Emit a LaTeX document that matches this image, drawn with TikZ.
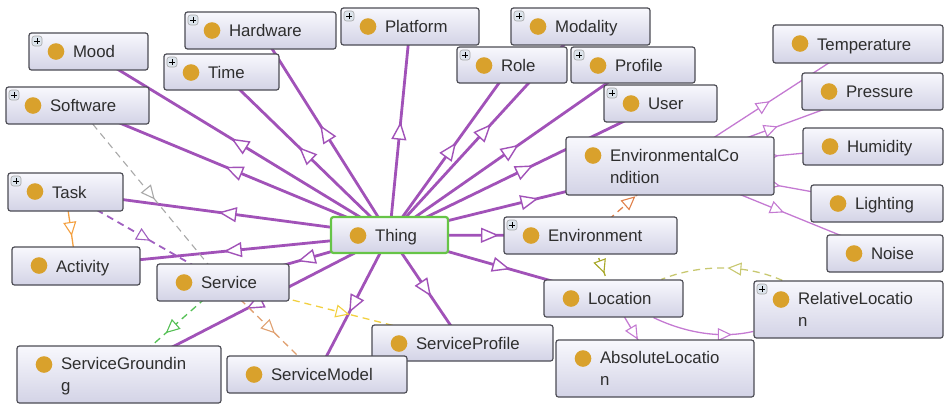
\documentclass[tikz,border=0pt]{standalone}
\usepackage{fontspec}
\setmainfont{Liberation Sans}
\usetikzlibrary{arrows.meta,decorations.markings,calc}
\definecolor{purp}{HTML}{A152B8}
\definecolor{lpurp}{HTML}{C47AD2}
\definecolor{dotc}{HTML}{D9A12C}
\definecolor{boxtop}{HTML}{F8F8FD}
\definecolor{boxbot}{HTML}{D3D3E6}
\definecolor{boxline}{HTML}{4C4C54}
\definecolor{txt}{HTML}{2E2E2E}
\definecolor{thinggreen}{HTML}{66C447}
\definecolor{plusfill}{HTML}{DCE4EC}
\definecolor{greyd}{HTML}{A8A8A8}
\definecolor{purd}{HTML}{A060C0}
\definecolor{greend}{HTML}{55C055}
\definecolor{tand}{HTML}{E0A070}
\definecolor{yellowd}{HTML}{F2D040}
\definecolor{orangel}{HTML}{F4A040}
\definecolor{oranged}{HTML}{E0804A}
\definecolor{olived}{HTML}{A8A828}
\definecolor{olivel}{HTML}{C8C870}
\pgfdeclarelayer{background}
\pgfsetlayers{background,main}
\tikzset{
  dotpic/.style={path picture={
      \fill[dotc] ([xshift=27pt,yshift=-18.5pt]path picture bounding box.north west) circle (8.3pt);}},
  pluspic/.style={path picture={
      \fill[dotc] ([xshift=27pt,yshift=-18.5pt]path picture bounding box.north west) circle (8.3pt);
      \draw[fill=plusfill,draw=gray!70,line width=0.6pt]
        ([xshift=3pt,yshift=-3pt]path picture bounding box.north west) rectangle
        ([xshift=13pt,yshift=-13pt]path picture bounding box.north west);
      \draw[black,line width=0.9pt]
        ([xshift=5pt,yshift=-8pt]path picture bounding box.north west) --
        ([xshift=11pt,yshift=-8pt]path picture bounding box.north west)
        ([xshift=8pt,yshift=-5pt]path picture bounding box.north west) --
        ([xshift=8pt,yshift=-11pt]path picture bounding box.north west);}},
  clsbox/.style={draw=boxline, line width=1.2pt, rounded corners=2.5pt,
    top color=boxtop, bottom color=boxbot, inner sep=0pt, align=left,
    text height=12pt, text depth=0pt, text=txt,
    font=\fontsize{16.8}{22}\selectfont,
    execute at begin node={\hyphenpenalty=10000 \exhyphenpenalty=10000 },
    dotpic},
  twoline/.style={text depth=22pt},
  plus/.style={pluspic},
  thingbox/.style={draw=thinggreen, line width=2.2pt},
  midtip/.style 2 args={postaction={decorate,decoration={markings,
      mark=at position #1 with {\arrow[line width=1.4pt,xshift=#2]{Triangle[length=18pt,width=15pt,fill=white]}}}}},
  smalltip/.style 2 args={postaction={decorate,decoration={markings,
      mark=at position #1 with {\arrow[line width=1.1pt,xshift=#2]{Triangle[length=14pt,width=13pt,fill=white]}}}}},
  isa/.style={draw=purp, line width=2.8pt, midtip={0.5}{9pt}},
  thinisa/.style={draw=lpurp, line width=1.3pt, smalltip={0.5}{7pt}},
  dashrel/.style={line width=1.3pt, dash pattern=on 7pt off 5pt, smalltip={0.5}{7pt}},
}
\newcommand\classnode[7][]{%
  \pgfmathsetmacro\cw{#5-#3}\pgfmathsetmacro\ch{#6-#4}%
  \pgfmathsetmacro\cx{(#3+#5)/2}\pgfmathsetmacro\cy{(#4+#6)/2}%
  \pgfmathsetmacro\tw{#5-#3-88}%
  \node[clsbox,#1,minimum width=\cw pt,minimum height=\ch pt,text width=\tw pt] (#2) at (\cx,\cy) {#7};}
\begin{document}
\begin{tikzpicture}[x=1pt,y=-1pt]
\useasboundingbox (0,0) rectangle (944,405);
% nodes
\classnode[plus]{mood}{29}{33}{148}{70}{Mood}
\classnode[plus]{hardware}{185}{12}{336}{49}{Hardware}
\classnode[plus]{time}{164}{54}{279}{90}{Time}
\classnode[plus]{software}{6}{87}{149}{124}{Software}
\classnode[plus]{platform}{341}{8}{479}{45}{Platform}
\classnode[plus]{modality}{511}{8}{650}{45}{Modality}
\classnode[plus]{role}{457}{47}{567}{83}{Role}
\classnode[plus]{profile}{571}{47}{695}{83}{Profile}
\classnode[plus]{user}{604}{85}{717}{122}{User}
\classnode{temperature}{773}{25}{943}{63}{Temperature}
\classnode{pressure}{802}{73}{943}{110}{Pressure}
\classnode[twoline]{envcond}{566}{137}{774}{195}{EnvironmentalCo\\ndition}
\classnode{humidity}{803}{128}{943}{165}{Humidity}
\classnode{lighting}{811}{185}{943}{222}{Lighting}
\classnode{noise}{827}{235}{943}{272}{Noise}
\classnode[plus]{task}{8}{173}{123}{211}{Task}
\classnode{activity}{12}{247}{140}{285}{Activity}
\classnode{service}{157}{264}{289}{301}{Service}
\classnode[thingbox]{thing}{331}{217}{448}{253}{Thing}
\classnode[plus]{environment}{504}{217}{677}{254}{Environment}
\classnode{location}{544}{280}{683}{317}{Location}
\classnode[plus,twoline]{relloc}{754}{281}{943}{338}{RelativeLocatio\\n}
\classnode[twoline]{absloc}{556}{340}{754}{397}{AbsoluteLocatio\\n}
\classnode{sprofile}{372}{325}{553}{361}{ServiceProfile}
\classnode{smodel}{227}{356}{407}{393}{ServiceModel}
\classnode[twoline]{sground}{17}{346}{221}{403}{ServiceGroundin\\g}
% edges
\begin{pgfonlayer}{background}
\foreach \c in {mood,hardware,time,software,platform,modality,role,profile,user,envcond,environment,location,sprofile,smodel,sground,service,activity,task}
  \draw[isa] (thing.center) -- (\c.center);
\foreach \c in {temperature,pressure,humidity,lighting,noise}
  \draw[thinisa] (envcond.center) -- (\c.center);
\draw[thinisa] (location.center) -- (absloc.center);
\draw[draw=lpurp, line width=1.3pt, smalltip={0.72}{7pt}] (location) .. controls (690,335) and (725,338) .. (relloc);
\draw[draw=orangel, line width=1.3pt, smalltip={0.5}{7pt}] (task.center) -- (activity.center);
\draw[dashrel, draw=purd, line width=1.8pt] (task.center) -- (service.center);
\draw[dashrel, draw=greyd, line width=1.1pt] (software.center) -- (service.center);
\draw[dashrel, draw=greend] (service.center) -- (sground.center);
\draw[dashrel, draw=tand] (service.center) -- (smodel.center);
\draw[dashrel, draw=yellowd] (service.center) -- (sprofile.center);
\draw[dashrel, draw=oranged] (environment.center) -- (envcond.center);
\draw[dashrel, draw=olived] (environment.center) -- (location.center);
\draw[draw=olivel, line width=1.3pt, dash pattern=on 7pt off 5pt, smalltip={0.4}{7pt}] (relloc) .. controls (745,264) and (700,264) .. (location);
\end{pgfonlayer}
\end{tikzpicture}
\end{document}
